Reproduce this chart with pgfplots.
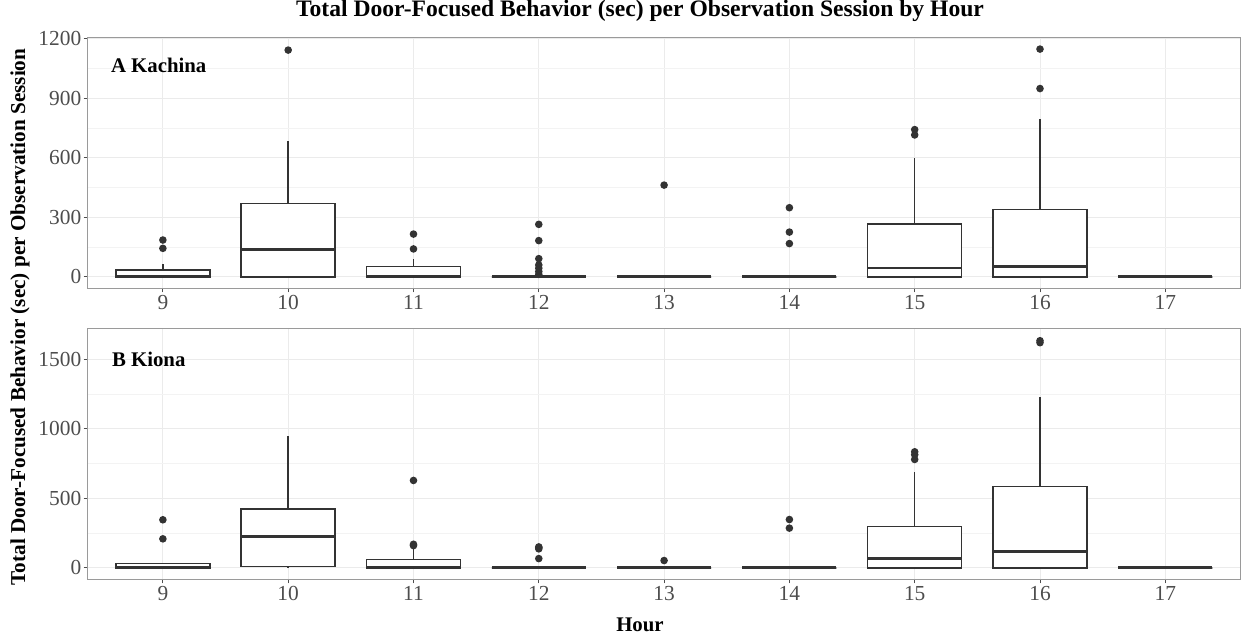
\documentclass[border=0pt]{standalone}
\usepackage{fontspec}
\setmainfont{Liberation Serif}
\usepackage{pgfplots}
\pgfplotsset{compat=1.18}
\usepgfplotslibrary{statistics}

\definecolor{boxline}{HTML}{333333}
\definecolor{gridc}{HTML}{EBEBEB}
\definecolor{tickc}{HTML}{4D4D4D}
\definecolor{framec}{HTML}{9A9A9A}

\pgfplotsset{
  panel/.style={
    scale only axis, width=576.4pt, height=125.4pt,
    anchor=south west,
    xmin=8.4, xmax=17.6,
    xtick={9,...,17},
    tick pos=left, tick align=outside,
    major tick length=2pt, minor tick length=0pt,
    tick style={tickc, line width=0.5pt},
    grid=both,
    major grid style={gridc, line width=0.5pt},
    minor grid style={gridc!60, line width=0.4pt},
    axis line style={framec, line width=0.6pt},
    ticklabel style={font=\fontsize{10.7}{12}\selectfont, text=tickc},
    /pgf/number format/assume math mode=true,
    /pgf/number format/1000 sep={},
    scaled y ticks=false,
    yticklabel style={inner sep=1pt},
    xticklabel style={inner sep=1.5pt},
    boxplot/draw direction=y,
    boxplot/box extend=0.75,
    boxplot/whisker extend=0,
    boxplot/every box/.style={draw=boxline, fill=white, line width=0.75pt},
    boxplot/every whisker/.style={draw=boxline, line width=0.75pt},
    boxplot/every median/.style={draw=boxline, line width=1.4pt},
  },
  bx/.style={boxplot prepared={#1}, draw=boxline, line width=0.75pt,
    mark=*, mark size=1.5pt, mark options={fill=boxline, draw=boxline}},
}

\begin{document}
\begin{tikzpicture}
\path[use as bounding box] (0,0) rectangle (621.5pt,318.5pt);

% A Kachina
\begin{axis}[panel, at={(43.85pt,174.35pt)},
  ymin=-57.5, ymax=1207.5,
  ytick={0,300,600,900,1200}, minor ytick={150,450,750,1050}]
\addplot[bx={draw position=9, lower whisker=0, lower quartile=0, median=0, upper quartile=35, upper whisker=67}]
  table[row sep=\\, y index=0] {v\\ 144\\ 186\\};
\addplot[bx={draw position=10, lower whisker=0, lower quartile=0, median=138, upper quartile=369, upper whisker=685}]
  table[row sep=\\, y index=0] {v\\ 1144\\};
\addplot[bx={draw position=11, lower whisker=0, lower quartile=0, median=0, upper quartile=52, upper whisker=92}]
  table[row sep=\\, y index=0] {v\\ 141\\ 216\\};
\addplot[bx={draw position=12, lower whisker=0, lower quartile=0, median=0, upper quartile=0, upper whisker=0}]
  table[row sep=\\, y index=0] {v\\ 13\\ 27\\ 44\\ 60\\ 92\\ 183\\ 265\\};
\addplot[bx={draw position=13, lower whisker=0, lower quartile=0, median=0, upper quartile=0, upper whisker=0}]
  table[row sep=\\, y index=0] {v\\ 463\\};
\addplot[bx={draw position=14, lower whisker=0, lower quartile=0, median=0, upper quartile=0, upper whisker=0}]
  table[row sep=\\, y index=0] {v\\ 168\\ 226\\ 349\\};
\addplot[bx={draw position=15, lower whisker=0, lower quartile=0, median=45, upper quartile=268, upper whisker=600}]
  table[row sep=\\, y index=0] {v\\ 716\\ 743\\};
\addplot[bx={draw position=16, lower whisker=0, lower quartile=0, median=54, upper quartile=341, upper whisker=797}]
  table[row sep=\\, y index=0] {v\\ 950\\ 1149\\};
\addplot[bx={draw position=17, lower whisker=0, lower quartile=0, median=0, upper quartile=0, upper whisker=0}]
  coordinates {};
\end{axis}

% B Kiona
\begin{axis}[panel, at={(43.85pt,28.85pt)},
  ymin=-82, ymax=1722,
  ytick={0,500,1000,1500}, minor ytick={250,750,1250}]
\addplot[bx={draw position=9, lower whisker=0, lower quartile=0, median=0, upper quartile=31, upper whisker=31}]
  table[row sep=\\, y index=0] {v\\ 209\\ 346\\};
\addplot[bx={draw position=10, lower whisker=0, lower quartile=10, median=223, upper quartile=422, upper whisker=950}]
  coordinates {};
\addplot[bx={draw position=11, lower whisker=0, lower quartile=0, median=0, upper quartile=60, upper whisker=135}]
  table[row sep=\\, y index=0] {v\\ 160\\ 170\\ 629\\};
\addplot[bx={draw position=12, lower whisker=0, lower quartile=0, median=0, upper quartile=0, upper whisker=0}]
  table[row sep=\\, y index=0] {v\\ 67\\ 137\\ 145\\ 151\\};
\addplot[bx={draw position=13, lower whisker=0, lower quartile=0, median=0, upper quartile=0, upper whisker=0}]
  table[row sep=\\, y index=0] {v\\ 53\\};
\addplot[bx={draw position=14, lower whisker=0, lower quartile=0, median=0, upper quartile=0, upper whisker=0}]
  table[row sep=\\, y index=0] {v\\ 286\\ 348\\};
\addplot[bx={draw position=15, lower whisker=0, lower quartile=0, median=67, upper quartile=298, upper whisker=689}]
  table[row sep=\\, y index=0] {v\\ 780\\ 814\\ 835\\};
\addplot[bx={draw position=16, lower whisker=0, lower quartile=0, median=120, upper quartile=586, upper whisker=1226}]
  table[row sep=\\, y index=0] {v\\ 1620\\ 1634\\};
\addplot[bx={draw position=17, lower whisker=0, lower quartile=0, median=0, upper quartile=0, upper whisker=0}]
  coordinates {};
\end{axis}

% texts
\node[anchor=base, font=\fontsize{11.8}{14}\selectfont\bfseries, inner sep=0pt] at (320pt,310.25pt)
  {Total Door-Focused Behavior (sec) per Observation Session by Hour};
\node[anchor=base west, font=\fontsize{10.4}{12}\selectfont\bfseries, inner sep=0pt] at (55.3pt,282.2pt) {A Kachina};
\node[anchor=base west, font=\fontsize{10.4}{12}\selectfont\bfseries, inner sep=0pt] at (55.8pt,135.2pt) {B Kiona};
\node[anchor=base, font=\fontsize{10.4}{12}\selectfont\bfseries, inner sep=0pt] at (320pt,2.65pt) {Hour};
\node[rotate=90, font=\fontsize{10.6}{12}\selectfont\bfseries, inner sep=0pt] at (10pt,160pt)
  {Total Door-Focused Behavior (sec) per Observation Session};
\end{tikzpicture}
\end{document}
